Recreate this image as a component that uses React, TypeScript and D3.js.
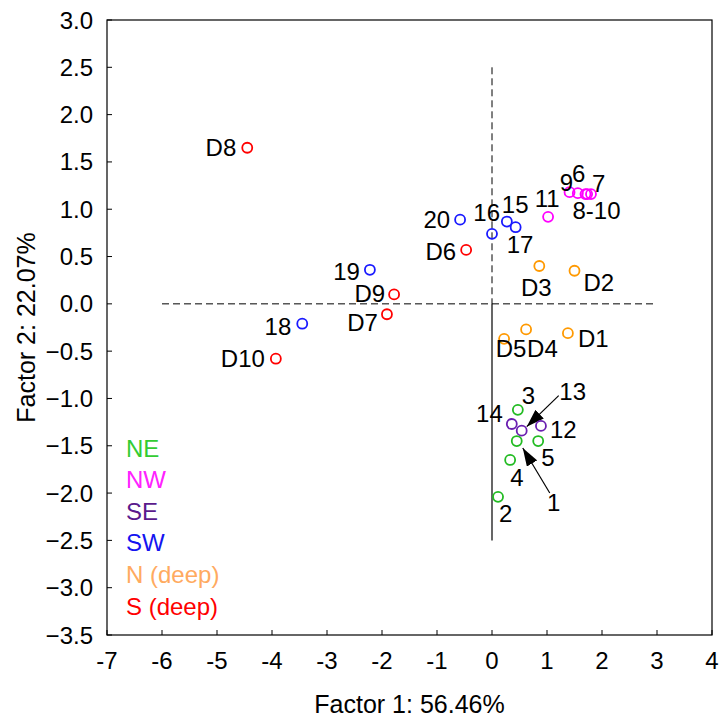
import * as d3 from "d3";

// factor scores, one set per region
const neIds = ["1", "2", "3", "4", "5"];
const neF1 = [0.45, 0.11, 0.47, 0.33, 0.84];
const neF2 = [-1.45, -2.04, -1.12, -1.65, -1.45];

const nwIds = ["6", "7", "8", "9", "10", "11"];
const nwF1 = [1.56, 1.8, 1.7, 1.41, 1.73, 1.02];
const nwF2 = [1.17, 1.16, 1.16, 1.18, 1.16, 0.92];

const seIds = ["12", "13", "14"];
const seF1 = [0.89, 0.54, 0.36];
const seF2 = [-1.29, -1.34, -1.27];

const swIds = ["15", "16", "17", "18", "19", "20"];
const swF1 = [0.27, 0.0, 0.43, -3.45, -2.22, -0.58];
const swF2 = [0.87, 0.74, 0.81, -0.21, 0.36, 0.89];

const nDeepIds = ["D1", "D2", "D3", "D4", "D5"];
const nDeepF1 = [1.38, 1.5, 0.86, 0.62, 0.22];
const nDeepF2 = [-0.31, 0.35, 0.4, -0.27, -0.37];

const sDeepIds = ["D6", "D7", "D8", "D9", "D10"];
const sDeepF1 = [-0.47, -1.91, -4.45, -1.78, -3.93];
const sDeepF2 = [0.57, -0.11, 1.65, 0.1, -0.58];

const groupNames = ["NE", "NW", "SE", "SW", "N (deep)", "S (deep)"];

const xTicks = d3.range(-7, 5, 1);
const yTicks = d3.range(-3.5, 3.01, 0.5);

type Pt = { id: string; f1: number; f2: number; group: number };

const groups: [string[], number[], number[]][] = [
  [neIds, neF1, neF2],
  [nwIds, nwF1, nwF2],
  [seIds, seF1, seF2],
  [swIds, swF1, swF2],
  [nDeepIds, nDeepF1, nDeepF2],
  [sDeepIds, sDeepF1, sDeepF2],
];

const points: Pt[] = groups.flatMap(([ids, a, b], g) =>
  ids.map((id, i) => ({ id, f1: a[i], f2: b[i], group: g }))
);

const markerColors = ["#22bb22", "#ff00ff", "#6a1fb0", "#1a1aff", "#ff9900", "#ff0000"];
const legendColors = ["#33cc33", "#ff22ff", "#5a1a8c", "#1414f0", "#ffaa60", "#ff0000"];

// label placement: [text, anchor, dx, dy] in px relative to the marker
const labelPlace: Record<string, [string, string, number, number]> = {
  D8: ["D8", "end", -11, 0],
  D10: ["D10", "end", -11, 0],
  "18": ["18", "end", -11, 3],
  D7: ["D7", "end", -9, 8],
  D9: ["D9", "end", -9, -1],
  "19": ["19", "end", -10, 2],
  "20": ["20", "end", -10, 0],
  D6: ["D6", "end", -10, 2],
  "16": ["16", "end", 8, -21],
  "15": ["15", "start", -5, -17],
  "17": ["17", "start", -9, 17],
  "11": ["11", "middle", -1, -18],
  "9": ["9", "middle", -3, -10],
  "6": ["6", "middle", 1, -20],
  "7": ["7", "start", 1, -11],
  "8": ["8-10", "start", -13, 16],
  D3: ["D3", "middle", -3, 21],
  D2: ["D2", "start", 9, 12],
  D1: ["D1", "start", 10, 5],
  D4: ["D4", "start", 1, 19],
  D5: ["D5", "middle", 7, 10],
  "3": ["3", "start", 4, -14],
  "14": ["14", "end", -9, -11],
  "12": ["12", "start", 9, 4],
  "5": ["5", "start", 3, 16],
  "4": ["4", "start", 0, 18],
  "2": ["2", "start", 1, 17],
  "13": ["13", "middle", 51, -39],
  "1": ["1", "middle", 37, 61],
};

// arrows for crowded points: [id, startDx, startDy, tipDx, tipDy]
const arrows: [string, number, number, number, number][] = [
  ["13", 37, -35, 5, -4],
  ["1", 33, 52, 6, 7],
];

const W = 722;
const H = 717;
const margin = { top: 20, right: 10, bottom: 82, left: 107 };
const font = "'Liberation Sans', Arial, sans-serif";

export default function App() {
  const x = d3.scaleLinear().domain([-7, 4]).range([margin.left, W - margin.right]);
  const y = d3.scaleLinear().domain([-3.5, 3]).range([H - margin.bottom, margin.top]);
  const [x0, x1] = x.range();
  const [yb, yt] = y.range();

  return (
    <svg
      width={W}
      height={H}
      style={{ position: "absolute", left: 0, top: 0, background: "#fff" }}
      fontFamily={font}
    >
      <defs>
        <marker id="ah" viewBox="0 0 18 12" refX={18} refY={6} markerWidth={18} markerHeight={12} markerUnits="userSpaceOnUse" orient="auto">
          <path d="M0,0 L18,6 L0,12 Z" fill="#000" />
        </marker>
      </defs>

      {/* reference lines */}
      <line x1={x(-6)} x2={x(3)} y1={y(0)} y2={y(0)} stroke="#000" strokeWidth={1} strokeDasharray="7,4" />
      <line x1={x(0)} x2={x(0)} y1={y(2.5)} y2={y(0)} stroke="#000" strokeWidth={1} strokeDasharray="7,4" />
      <line x1={x(0)} x2={x(0)} y1={y(0)} y2={y(-2.5)} stroke="#000" strokeWidth={1.2} />

      {/* frame */}
      <rect x={x0} y={yt} width={x1 - x0} height={yb - yt} fill="none" stroke="#000" strokeWidth={1.2} />

      {xTicks.map((t) => (
        <g key={"x" + t}>
          <line x1={x(t)} x2={x(t)} y1={yb} y2={yb - 5} stroke="#000" />
          <text x={x(t)} y={yb + 25} textAnchor="middle" dominantBaseline="central" fontSize={24}>
            {t}
          </text>
        </g>
      ))}
      {yTicks.map((t) => (
        <g key={"y" + t}>
          <line x1={x0} x2={x0 + 5} y1={y(t)} y2={y(t)} stroke="#000" />
          <text x={x0 - 14} y={y(t)} textAnchor="end" dominantBaseline="central" fontSize={24}>
            {d3.format(".1f")(t)}
          </text>
        </g>
      ))}

      <text x={(x0 + x1) / 2} y={H - 13} textAnchor="middle" dominantBaseline="central" fontSize={25}>
        Factor 1: 56.46%
      </text>
      <text
        transform={`translate(26,${(yb + yt) / 2}) rotate(-90)`}
        textAnchor="middle"
        dominantBaseline="central"
        fontSize={25}
      >
        Factor 2: 22.07%
      </text>

      {/* arrows */}
      {arrows.map(([id, sx, sy, tx, ty]) => {
        const p = points.find((d) => d.id === id)!;
        const cx = x(p.f1);
        const cy = y(p.f2);
        return (
          <line key={"a" + id} x1={cx + sx} y1={cy + sy} x2={cx + tx} y2={cy + ty} stroke="#000" strokeWidth={1.2} markerEnd="url(#ah)" />
        );
      })}

      {/* points */}
      {points.map((p) => (
        <circle key={"c" + p.id} cx={x(p.f1)} cy={y(p.f2)} r={5} fill="none" stroke={markerColors[p.group]} strokeWidth={1.8} />
      ))}

      {/* point labels */}
      {points.map((p) => {
        const lp = labelPlace[p.id];
        if (!lp) return null;
        return (
          <text
            key={"t" + p.id}
            x={x(p.f1) + lp[2]}
            y={y(p.f2) + lp[3]}
            textAnchor={lp[1] as any}
            dominantBaseline="central"
            fontSize={24}
          >
            {lp[0]}
          </text>
        );
      })}

      {/* legend */}
      {groupNames.map((g, i) => (
        <text key={"l" + g} x={126} y={448 + i * 31.6} dominantBaseline="central" fontSize={24} fill={legendColors[i]}>
          {g}
        </text>
      ))}
    </svg>
  );
}
